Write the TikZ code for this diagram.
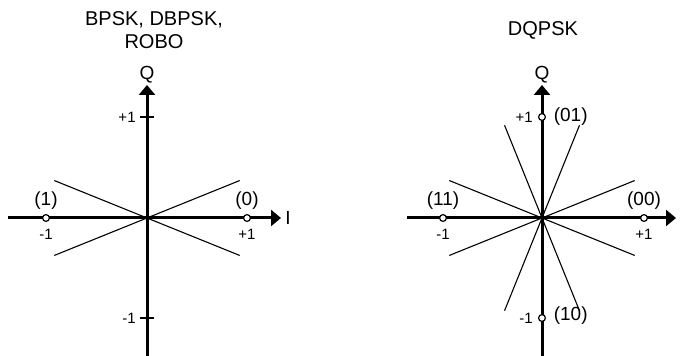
\documentclass[tikz,border=0pt]{standalone}
\usepackage{fontspec}
\setmainfont{Liberation Sans}
\usetikzlibrary{arrows.meta, positioning, calc}

\begin{document}
\begin{tikzpicture}[
  x=0.5pt, y=-0.5pt,
  >={Triangle[length=5pt, width=8pt]},
  axis/.style     = {line width=1.5pt},
  ray/.style      = {line width=0.55pt},
  tk/.style       = {line width=0.65pt},
  symb/.style     = {draw, circle, fill=white, line width=0.6pt, inner sep=0pt, minimum size=3.4pt},
  ticklbl/.style  = {font=\fontsize{7.5}{9}\selectfont, inner sep=1pt},
  lbl/.style      = {font=\fontsize{9.5}{11}\selectfont, inner sep=1pt},
  axlbl/.style    = {font=\fontsize{9.5}{11}\selectfont, inner sep=1pt},
  ttl/.style      = {font=\fontsize{10}{11.5}\selectfont, align=center},
]
  \useasboundingbox (0,0) rectangle (680,356);

  % titles
  \node[ttl] (tbpsk) at (154,30) {BPSK, DBPSK,\\ROBO};
  \node[ttl] (tqpsk) at (543,30) {DQPSK};

  % --- left: BPSK ---
  \coordinate (o1)  at (147,218);
  \coordinate (q1b) at (147,356);
  \coordinate (q1t) at (147,85);
  \coordinate (i1l) at (8,218);
  \coordinate (i1r) at (281,218);

  \foreach \a in {22,158}
    \draw[ray] ($(o1)+(\a:100)$) -- ($(o1)+(\a+180:100)$);

  \draw[axis,->] (q1b) -- (q1t);
  \draw[axis,->] (i1l) -- (i1r);
  \node[axlbl, above=0pt of q1t] (q1) {Q};
  \node[axlbl, right=1pt of i1r] (i1) {I};

  \draw[tk] (140,117) coordinate (t1a) -- (154,117);
  \draw[tk] (140,318) coordinate (t1b) -- (154,318);
  \node[ticklbl, left=1pt of t1a] {+1};
  \node[ticklbl, left=1pt of t1b] {-1};

  \node[symb] (s1) at (46,218)  {};
  \node[symb] (s0) at (247,218) {};
  \node[lbl, above=1pt of s1] {(1)};
  \node[lbl, above=1pt of s0] {(0)};
  \node[ticklbl, below=2.5pt of s1] {-1};
  \node[ticklbl, below=2.5pt of s0] {+1};

  % --- right: DQPSK ---
  \coordinate (o2)  at (542,218);
  \coordinate (q2b) at (542,356);
  \coordinate (q2t) at (542,85);
  \coordinate (i2l) at (407,218);
  \coordinate (i2r) at (676,218);

  \foreach \a in {22,158,68,112}
    \draw[ray] ($(o2)+(\a:100)$) -- ($(o2)+(\a+180:100)$);

  \draw[axis,->] (q2b) -- (q2t);
  \draw[axis,->] (i2l) -- (i2r);
  \node[axlbl, above=0pt of q2t] (q2) {Q};

  \node[symb] (s11) at (443,218) {};
  \node[symb] (s00) at (644,218) {};
  \node[symb] (s01) at (542,117) {};
  \node[symb] (s10) at (542,318) {};
  \node[lbl, above=1pt of s11] {(11)};
  \node[lbl, above=1pt of s00] {(00)};
  \node[lbl, right=2.7pt of s01] {(01)};
  \node[lbl, right=2.7pt of s10, yshift=1pt] {(10)};
  \node[ticklbl, below=2.5pt of s11] {-1};
  \node[ticklbl, below=2.5pt of s00] {+1};
  \node[ticklbl, left=1.5pt of s01] {+1};
  \node[ticklbl, left=1.5pt of s10] {-1};
\end{tikzpicture}
\end{document}
